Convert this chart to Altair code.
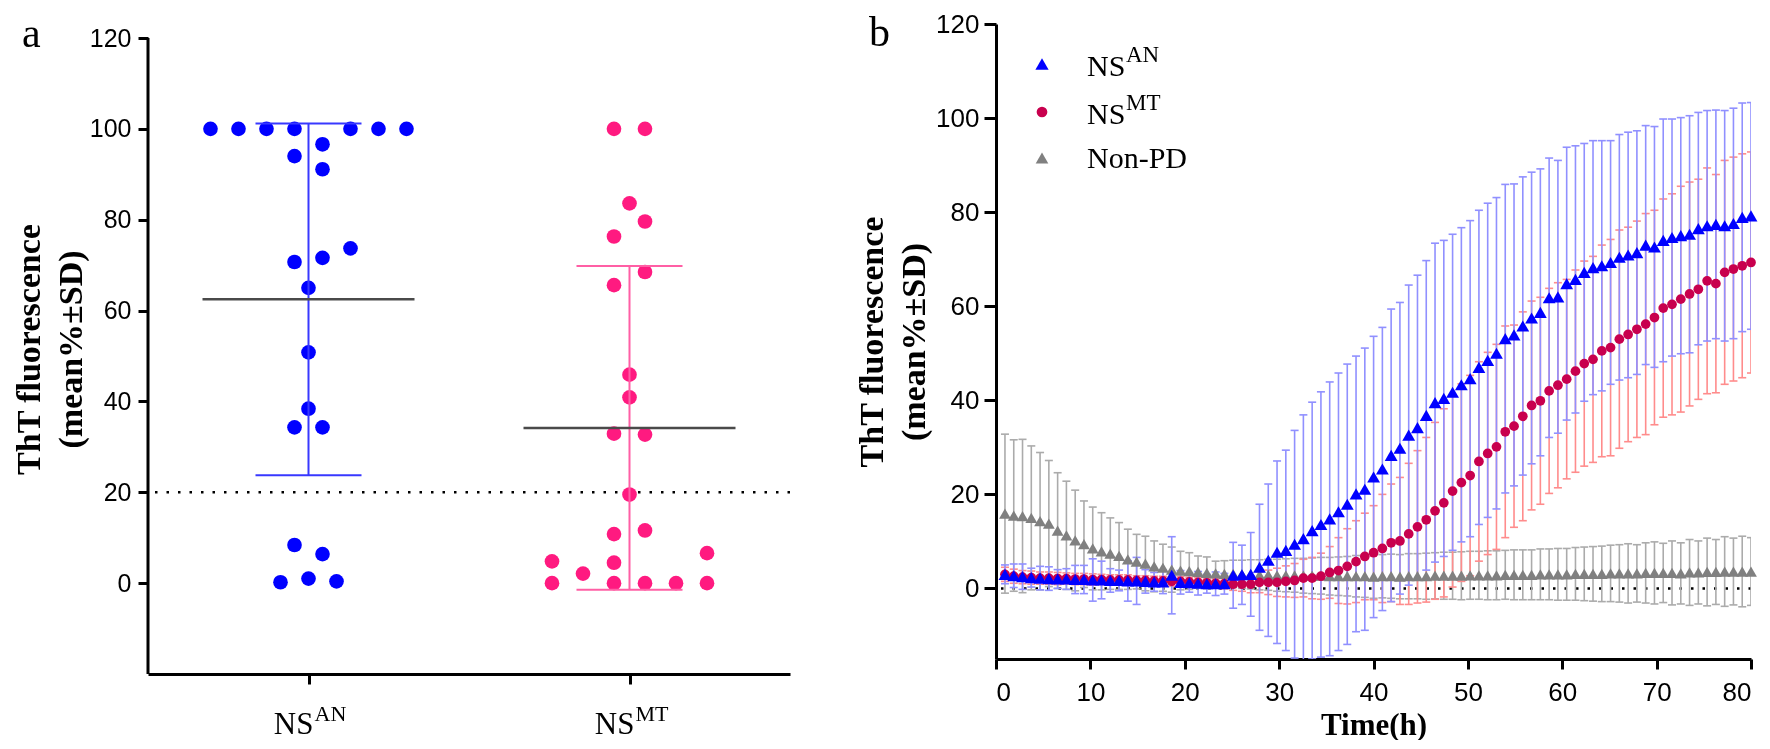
import altair as alt
import pandas as pd

SANS = "Liberation Sans"
SERIF = "Liberation Serif"

# ---------------- panel a : individual samples ----------------
groups = ["NS^AN", "NS^MT"]
group_main = ["NS", "NS"]
group_sup = ["AN", "MT"]
an_values = [100, 100, 100, 100, 100, 100, 100, 96.6, 94.0, 91.1, 73.7, 71.6, 70.7,
             65.0, 50.8, 38.4, 34.3, 34.3, 8.4, 6.4, 0.2, 1.0, 0.4]
an_slot = [-7, -5, -3, -1, 3, 5, 7, 1, -1, 1, 3, 1, -1, 0, 0, 0, -1, 1, -1, 1, -2, 0, 2]
mt_values = [100, 100, 83.6, 79.6, 76.3, 68.5, 65.6, 45.9, 40.9, 32.9, 32.7, 19.5,
             10.8, 11.6, 4.8, 0.0, 2.1, 4.5, 0.0, 0.0, 0.0, 6.6, 0.0]
mt_slot = [-1, 1, 0, 1, -1, 1, -1, 0, 0, -1, 1, 0, -1, 1, -5, -5, -3, -1, -1, 1, 3, 5, 5]
threshold = [20]
a_axis_range = [-20, 120]

# ---------------- panel b : kinetics (reading times, h) ----------------
times = [0.95, 1.88, 2.81, 3.74, 4.67, 5.60, 6.53, 7.46, 8.39, 9.32,
         10.25, 11.18, 12.11, 13.04, 13.97, 14.90, 15.83, 16.76, 17.69, 18.62,
         19.55, 20.48, 21.41, 22.34, 23.27, 24.20, 25.13, 26.06, 26.99, 27.92,
         28.85, 29.78, 30.71, 31.64, 32.57, 33.50, 34.43, 35.36, 36.29, 37.22,
         38.15, 39.08, 40.01, 40.94, 41.87, 42.80, 43.73, 44.66, 45.59, 46.52,
         47.45, 48.38, 49.31, 50.24, 51.17, 52.10, 53.03, 53.96, 54.89, 55.82,
         56.75, 57.68, 58.61, 59.54, 60.47, 61.40, 62.33, 63.26, 64.19, 65.12,
         66.05, 66.98, 67.91, 68.84, 69.77, 70.70, 71.63, 72.56, 73.49, 74.42,
         75.35, 76.28, 77.21, 78.14, 79.07, 80.00]
series = ["NS^AN", "NS^MT", "Non-PD"]
legend_main = ["NS", "NS", "Non-PD"]
legend_sup = ["AN", "MT", ""]

an_mean = [3.0, 2.7, 2.5, 2.3, 2.2, 2.1, 2.0, 2.0, 1.9, 1.9,
           1.8, 1.8, 1.7, 1.7, 1.6, 1.6, 1.5, 1.4, 1.4, 2.8,
           1.3, 1.2, 1.1, 1.0, 1.0, 1.0, 2.8, 2.9, 3.0, 4.5,
           6.0, 7.7, 8.1, 9.4, 10.6, 12.3, 13.6, 14.8, 16.3, 17.9,
           20.1, 21.1, 23.7, 25.4, 28.3, 29.8, 32.6, 34.2, 36.8, 39.5,
           40.4, 41.7, 43.3, 44.6, 47.0, 48.5, 50.0, 53.1, 53.9, 55.8,
           57.5, 58.7, 61.8, 62.0, 64.8, 65.7, 67.2, 68.2, 68.6, 69.3,
           70.4, 70.9, 71.4, 73.0, 72.6, 74.0, 74.6, 75.0, 75.3, 76.5,
           77.1, 77.4, 77.1, 77.6, 78.9, 79.2]
an_sd = [2.0, 2.5, 2.7, 2.0, 2.5, 2.5, 2.0, 2.2, 3.0, 3.0,
         4.5, 4.0, 2.5, 2.2, 4.3, 5.0, 2.5, 2.0, 2.5, 8.2,
         2.5, 2.0, 2.5, 2.0, 2.5, 2.2, 7.0, 6.3, 8.9, 13.4,
         16.2, 19.4, 21.3, 24.2, 26.3, 27.3, 28.2, 29.1, 29.5, 29.8,
         29.3, 30.0, 29.9, 30.1, 31.1, 31.0, 31.9, 32.4, 32.9, 33.9,
         33.6, 33.6, 33.4, 33.6, 33.4, 33.4, 33.1, 32.8, 32.1, 31.7,
         31.0, 30.5, 29.7, 29.0, 29.0, 28.4, 27.4, 27.0, 26.6, 25.9,
         26.1, 26.1, 25.9, 25.4, 25.6, 25.8, 25.2, 25.1, 25.2, 24.7,
         24.5, 24.3, 24.5, 24.5, 24.3, 24.1]
mt_mean = [3.0, 2.6, 2.4, 2.3, 2.2, 2.2, 2.1, 2.1, 2.0, 2.0,
           1.9, 1.9, 1.8, 1.8, 1.8, 1.7, 1.7, 1.6, 1.6, 1.5,
           1.5, 1.4, 1.3, 1.2, 1.1, 1.0, 0.9, 0.9, 0.9, 1.3,
           1.3, 1.3, 1.5, 1.7, 2.2, 2.2, 2.6, 3.4, 3.8, 4.7,
           5.7, 6.8, 7.6, 8.5, 9.7, 10.1, 11.6, 13.1, 14.6, 16.5,
           18.2, 20.7, 22.5, 24.0, 27.0, 28.7, 30.1, 33.3, 34.5, 36.6,
           38.9, 39.9, 42.0, 43.2, 44.5, 46.2, 47.8, 48.7, 50.5, 51.2,
           53.0, 54.0, 55.1, 56.2, 57.6, 59.6, 60.4, 61.5, 62.6, 63.6,
           65.4, 64.8, 67.2, 67.9, 68.6, 69.3]
mt_sd = [1.5, 1.5, 1.4, 1.4, 1.3, 1.3, 1.3, 1.2, 1.2, 1.2,
         1.2, 1.1, 1.1, 1.1, 1.1, 1.0, 1.0, 1.0, 1.0, 1.0,
         1.0, 1.0, 1.0, 1.0, 1.0, 1.1, 1.3, 1.5, 1.8, 2.2,
         2.6, 3.0, 3.3, 3.6, 4.0, 4.4, 4.9, 5.5, 7.0, 8.0,
         8.7, 9.2, 10.0, 11.5, 12.5, 13.5, 15.0, 16.2, 17.5, 18.8,
         20.0, 20.4, 21.0, 21.3, 21.2, 21.5, 21.8, 22.5, 21.5, 22.2,
         22.2, 22.0, 21.8, 21.8, 21.2, 21.5, 21.8, 21.9, 22.5, 23.0,
         23.2, 22.8, 23.0, 23.5, 22.8, 23.2, 23.5, 24.0, 23.8, 23.4,
         24.0, 23.2, 23.8, 23.8, 23.8, 23.5]
np_mean = [15.9, 15.5, 15.4, 15.0, 14.3, 13.8, 12.3, 11.3, 10.2, 9.4,
           8.5, 7.9, 7.4, 6.9, 6.2, 5.7, 5.3, 4.7, 4.4, 4.0,
           3.8, 3.7, 3.5, 3.3, 3.2, 3.1, 3.1, 3.0, 3.0, 2.9,
           2.9, 2.8, 2.8, 2.8, 2.7, 2.7, 2.7, 2.6, 2.6, 2.6,
           2.6, 2.6, 2.5, 2.6, 2.6, 2.5, 2.6, 2.6, 2.6, 2.7,
           2.7, 2.7, 2.7, 2.8, 2.8, 2.8, 2.8, 2.9, 2.9, 2.9,
           2.9, 3.0, 3.0, 3.0, 3.0, 3.1, 3.1, 3.1, 3.1, 3.2,
           3.2, 3.2, 3.2, 3.3, 3.3, 3.3, 3.3, 3.2, 3.4, 3.4,
           3.5, 3.5, 3.6, 3.6, 3.6, 3.6]
np_sd = [16.9, 16.1, 16.3, 15.3, 14.6, 13.4, 12.3, 11.5, 10.7, 9.2,
         8.8, 8.2, 7.6, 7.1, 6.4, 5.8, 5.8, 5.4, 5.0, 4.8,
         4.1, 3.9, 3.4, 3.4, 2.6, 2.8, 2.9, 3.0, 3.1, 3.2,
         3.3, 3.4, 3.5, 3.6, 3.7, 3.8, 3.9, 4.0, 4.1, 4.2,
         4.4, 4.5, 4.6, 4.6, 4.7, 4.7, 4.8, 4.8, 4.9, 4.9,
         5.0, 5.0, 5.1, 5.1, 5.1, 5.2, 5.2, 5.2, 5.3, 5.3,
         5.3, 5.4, 5.4, 5.5, 5.5, 5.6, 5.7, 5.8, 5.9, 6.0,
         6.1, 6.3, 6.1, 6.4, 6.6, 6.3, 6.8, 6.5, 7.0, 6.7,
         7.2, 6.9, 7.4, 7.1, 7.5, 7.2]
zero_line = [0]

# ---------------- styles / layout ----------------
A_W = 642
A_PX_PER_UNIT = 636 / 140.0
A_TOP_PAD = 14                      # panel a plot starts 14px lower than panel b
A_H = 636 + A_TOP_PAD
B_W, B_H = 755, 635
SLOT_PX = [14.0, 15.5]              # beeswarm column spacing per group (px)
DOT_COLORS = ["#0000FF", "#FF1A80"]
ERR_COLORS = ["#3838FF", "#FF5FA5"]
MARK_COLORS = {"NS^AN": "#0000FF", "NS^MT": "#C8004E", "Non-PD": "#808080"}
BAR_COLORS = {"NS^AN": "#9090FF", "NS^MT": "#FF8C8C", "Non-PD": "#ABABAB"}
SHAPES = {"NS^AN": "triangle-up", "NS^MT": "circle", "Non-PD": "triangle-up"}
SIZES = {"NS^AN": 165, "NS^MT": 95, "Non-PD": 140}
LEG_SIZES = {"NS^AN": 175, "NS^MT": 115, "Non-PD": 160}
TITLE_Y = ["ThT fluorescence", "(mean%±SD)"]
TICKS_Y = [0, 20, 40, 60, 80, 100, 120]

# ================= panel a =================
dfa = pd.DataFrame({
    "group": [groups[0]] * len(an_values) + [groups[1]] * len(mt_values),
    "gidx": [0] * len(an_values) + [1] * len(mt_values),
    "value": an_values + mt_values,
    "slot": an_slot + mt_slot,
})
slot_expr = (f"datum.gidx + 0.5 + datum.slot * (datum.gidx == 0 ? {SLOT_PX[0] / A_W * 2} "
             f": {SLOT_PX[1] / A_W * 2})")
xa_scale = alt.Scale(domain=[0, 2], nice=False, zero=False)
ya_scale = alt.Scale(domain=[a_axis_range[0], a_axis_range[1] + A_TOP_PAD / A_PX_PER_UNIT],
                     nice=False, zero=False)
XA_AXIS = alt.Axis(title=None, labels=False, values=[0.5, 1.5], tickSize=10)
YA_AXIS = alt.Axis(values=TICKS_Y, title=TITLE_Y, domain=False,
                   labelFontSize=25, labelPadding=7, tickSize=10,
                   titleFontSize=34, titleLineHeight=42, titlePadding=1)


def xa(field):
    return alt.X(field, scale=xa_scale, axis=XA_AXIS)


def ya(field):
    return alt.Y(field, scale=ya_scale, axis=YA_AXIS)


axis_line_a = alt.Chart(pd.DataFrame({"lo": [a_axis_range[0]], "hi": [a_axis_range[1]]})).mark_rule(
    color="black", strokeWidth=3).encode(x=alt.value(0), y=ya("lo:Q"), y2="hi:Q")
thr_a = alt.Chart(pd.DataFrame({"thr": threshold})).mark_rule(
    color="black", strokeWidth=2.5, strokeDash=[2.5, 9]).encode(y=ya("thr:Q"))
pts_a = alt.Chart(dfa).transform_calculate(xp=slot_expr).mark_circle(size=215, opacity=1).encode(
    x=xa("xp:Q"),
    y=ya("value:Q"),
    color=alt.Color("group:N", scale=alt.Scale(domain=groups, range=DOT_COLORS), legend=None),
)
stats_a = alt.Chart(dfa).transform_aggregate(
    m="mean(value)", s="stdev(value)", groupby=["group", "gidx"]
).transform_calculate(lo="datum.m - datum.s", hi="datum.m + datum.s", gx="datum.gidx + 0.5")
bar_col = alt.condition(alt.datum.group == groups[0], alt.value(ERR_COLORS[0]), alt.value(ERR_COLORS[1]))
err_a = stats_a.mark_rule(strokeWidth=2).encode(x=xa("gx:Q"), y=ya("lo:Q"), y2="hi:Q", color=bar_col)
caps_a = stats_a.transform_fold(["lo", "hi"], as_=["end", "v"]).mark_tick(
    orient="horizontal", size=106, thickness=2, opacity=1).encode(x=xa("gx:Q"), y=ya("v:Q"), color=bar_col)
mean_a = stats_a.mark_tick(orient="horizontal", size=212, thickness=2.5, opacity=1,
                           color="#4a4a4a").encode(x=xa("gx:Q"), y=ya("m:Q"))
lab_df = pd.DataFrame({"gidx": [0, 1], "main": group_main, "sup": group_sup})
lab_base = alt.Chart(lab_df).transform_calculate(gx="datum.gidx + 0.5")
lab_main = lab_base.mark_text(align="right", baseline="alphabetic", font=SERIF,
                              fontSize=31, dx=5, color="black").encode(
    x=xa("gx:Q"), y=alt.value(A_H + 60), text="main:N")
lab_sup = lab_base.mark_text(align="left", baseline="alphabetic", font=SERIF,
                             fontSize=22, dx=6, color="black").encode(
    x=xa("gx:Q"), y=alt.value(A_H + 47), text="sup:N")
tag_a = alt.Chart(pd.DataFrame({"t": ["a"]})).mark_text(
    align="left", baseline="alphabetic", font=SERIF, fontSize=42, color="black").encode(
    x=alt.value(-126), y=alt.value(23), text="t:N")

panel_a = alt.layer(axis_line_a, thr_a, pts_a, err_a, caps_a, mean_a, lab_main, lab_sup, tag_a).properties(
    width=A_W, height=A_H)

# ================= panel b =================
n = len(times)
dfb = pd.DataFrame({
    "time": times * 3,
    "series": [series[0]] * n + [series[1]] * n + [series[2]] * n,
    "mean": an_mean + mt_mean + np_mean,
    "sd": an_sd + mt_sd + np_sd,
})
xb_scale = alt.Scale(domain=[0, 80], nice=False)
yb_scale = alt.Scale(domain=[-15, 120], nice=False, zero=False)
XB_AXIS = alt.Axis(values=list(range(0, 81, 10)), title="Time(h)",
                   labelFontSize=26, labelPadding=10, tickSize=10,
                   titleFontSize=31, titlePadding=5)
YB_AXIS = alt.Axis(values=TICKS_Y, title=TITLE_Y,
                   labelFontSize=26, labelPadding=5, tickSize=12,
                   titleFontSize=34, titleLineHeight=42, titlePadding=4)


def xb(field="time:Q"):
    return alt.X(field, scale=xb_scale, axis=XB_AXIS)


def yb(field):
    return alt.Y(field, scale=yb_scale, axis=YB_AXIS)


base_b = alt.Chart(dfb).transform_calculate(lo="datum.mean - datum.sd", hi="datum.mean + datum.sd")

zero_b = alt.Chart(pd.DataFrame({"z": zero_line})).mark_rule(
    color="black", strokeWidth=2.5, strokeDash=[2.5, 9]).encode(y=yb("z:Q"))

layers_b = [zero_b]
for s in ["Non-PD", "NS^MT", "NS^AN"]:
    sub = base_b.transform_filter(alt.datum.series == s)
    layers_b.append(sub.mark_rule(strokeWidth=1.6, color=BAR_COLORS[s], blend="multiply", clip=True).encode(
        x=xb(), y=yb("lo:Q"), y2="hi:Q"))
    layers_b.append(sub.transform_fold(["lo", "hi"], as_=["end", "v"]).mark_tick(
        orient="horizontal", size=8, thickness=1.6, opacity=1, color=BAR_COLORS[s],
        blend="multiply", clip=True).encode(x=xb(), y=yb("v:Q")))

for s in ["Non-PD", "NS^MT", "NS^AN"]:
    sub = base_b.transform_filter(alt.datum.series == s)
    layers_b.append(sub.mark_point(shape=SHAPES[s], filled=True, size=SIZES[s], opacity=1,
                                   color=MARK_COLORS[s]).encode(x=xb(), y=yb("mean:Q")))

# legend (manual, to allow superscripts)
leg_sym_y = [40, 88, 134]
leg_txt_y = [52, 100, 144]
for i, s in enumerate(series):
    one = alt.Chart(pd.DataFrame({"main": [legend_main[i]], "sup": [legend_sup[i]]}))
    layers_b.append(one.mark_point(shape=SHAPES[s], filled=True, size=LEG_SIZES[s], opacity=1,
                                   color=MARK_COLORS[s]).encode(x=alt.value(46), y=alt.value(leg_sym_y[i])))
    layers_b.append(one.mark_text(align="left", baseline="alphabetic", font=SERIF, fontSize=30,
                                  color="black").encode(x=alt.value(91), y=alt.value(leg_txt_y[i]), text="main:N"))
    if legend_sup[i]:
        layers_b.append(one.mark_text(align="left", baseline="alphabetic", font=SERIF, fontSize=23,
                                      color="black").encode(x=alt.value(130), y=alt.value(leg_txt_y[i] - 14),
                                                            text="sup:N"))

tag_b = alt.Chart(pd.DataFrame({"t": ["b"]})).mark_text(
    align="left", baseline="alphabetic", font=SERIF, fontSize=42, color="black").encode(
    x=alt.value(-127), y=alt.value(22), text="t:N")
layers_b.append(tag_b)

panel_b = alt.layer(*layers_b).properties(width=B_W, height=B_H)

chart = alt.hconcat(panel_a, panel_b, spacing=63).properties(
    padding={"left": 4, "top": 3, "right": 0, "bottom": 0}
).configure_view(stroke=None).configure_axis(
    domainColor="black", domainWidth=3, tickColor="black", tickWidth=3,
    labelColor="black", labelFont=SANS, titleFont=SERIF, titleFontWeight="bold",
    titleColor="black", grid=False,
)

chart.save("out.html", embed_options={"renderer": "svg", "actions": False})
